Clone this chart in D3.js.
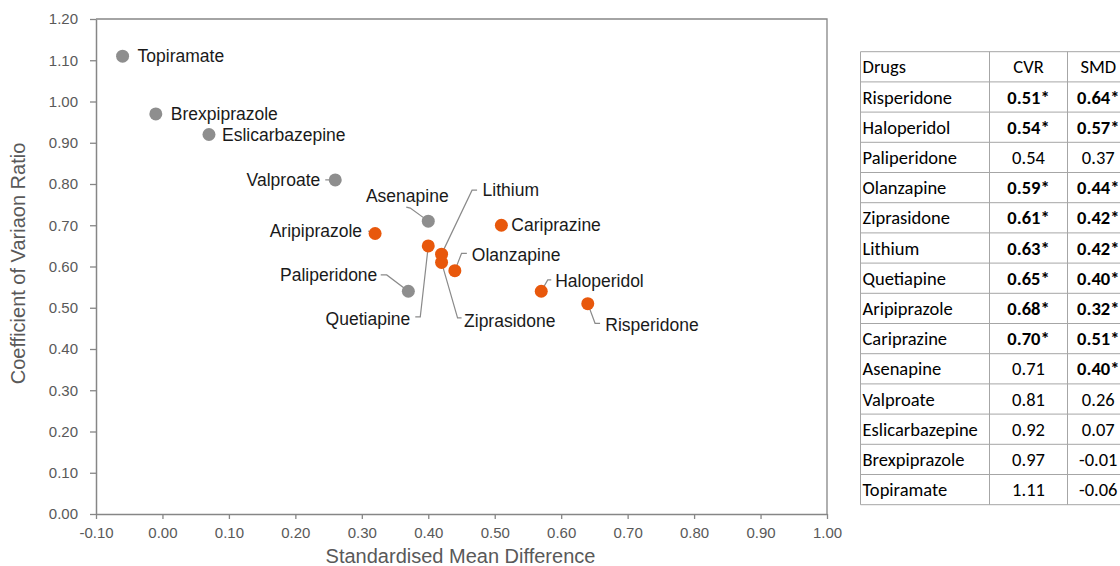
<!DOCTYPE html>
<html>
<head>
<meta charset="utf-8">
<script src="https://cdn.jsdelivr.net/npm/d3@7"></script>
<style>
  html, body { margin: 0; padding: 0; background: #fff; }
  svg { display: block; }
</style>
</head>
<body>
<svg id="chart" width="1120" height="566"></svg>
<script>
// Drugs ordered by coefficient of variation ratio (CVR)
const drugs = ["Risperidone", "Haloperidol", "Paliperidone", "Olanzapine", "Ziprasidone",
  "Lithium", "Quetiapine", "Aripiprazole", "Cariprazine", "Asenapine", "Valproate",
  "Eslicarbazepine", "Brexpiprazole", "Topiramate"];
const cvr = [0.51, 0.54, 0.54, 0.59, 0.61, 0.63, 0.65, 0.68, 0.70, 0.71, 0.81, 0.92, 0.97, 1.11];
const smd = [0.64, 0.57, 0.37, 0.44, 0.42, 0.42, 0.40, 0.32, 0.51, 0.40, 0.26, 0.07, -0.01, -0.06];
// significance flags (starred values)
const cvrSig = [true, true, false, true, true, true, true, true, true, false, false, false, false, false];
const smdSig = [true, true, false, true, true, true, true, true, true, true, false, false, false, false];

const xTicks = [-0.1, 0, 0.1, 0.2, 0.3, 0.4, 0.5, 0.6, 0.7, 0.8, 0.9, 1.0];
const yTicks = [0, 0.1, 0.2, 0.3, 0.4, 0.5, 0.6, 0.7, 0.8, 0.9, 1.0, 1.1, 1.2];
const tableHeader = ["Drugs", "CVR", "SMD"];

// Label placement around each point (pixel offsets from the point centre)
// leader: polyline points from the point towards the label; anchor: text-anchor
const labelLayout = {
  Topiramate:      { lx: 15,   ly: 0,     anchor: "start", leader: [] },
  Brexpiprazole:   { lx: 15,   ly: 0,     anchor: "start", leader: [] },
  Eslicarbazepine: { lx: 13,   ly: 0,     anchor: "start", leader: [] },
  Cariprazine:     { lx: 10,   ly: 0,     anchor: "start", leader: [] },
  Valproate:       { lx: -15,  ly: 0,     anchor: "end",   leader: [[-10, 0]] },
  Aripiprazole:    { lx: -13,  ly: -2.5,  anchor: "end",   leader: [[-7, -2.5]] },
  Asenapine:       { lx: -21,  ly: -25,   anchor: "middle",leader: [[-18, -13], [-22, -14]] },
  Lithium:         { lx: 41,   ly: -64,   anchor: "start", leader: [[30.5, -64], [35.5, -64]] },
  Olanzapine:      { lx: 17,   ly: -16,   anchor: "start", leader: [[6.7, -17.3], [12, -17.3]] },
  Ziprasidone:     { lx: 22.5, ly: 58,    anchor: "start", leader: [[16, 55.5], [20, 55.5]] },
  Quetiapine:      { lx: -18,  ly: 73,    anchor: "end",   leader: [[-8, 71], [-13, 71]] },
  Paliperidone:    { lx: -31,  ly: -16.3, anchor: "end",   leader: [[-21.6, -16.3], [-27.6, -16.3]] },
  Haloperidol:     { lx: 14,   ly: -10.6, anchor: "start", leader: [[6.5, -11.3], [10, -11.3]] },
  Risperidone:     { lx: 17.5, ly: 21.4,  anchor: "start", leader: [[7.3, 19.7], [12.3, 19.7]] }
};

const svg = d3.select("#chart");
const plot = { left: 96, right: 827, top: 19, bottom: 514 };

const x = d3.scaleLinear().domain([-0.1, 1.0]).range([plot.left, plot.right]);
const y = d3.scaleLinear().domain([0, 1.2]).range([plot.bottom, plot.top]);

const axisColor = "#868686";
const tickText = "#595959";
const fmt = v => v.toFixed(2);

// plot frame (top and right edges)
svg.append("path")
  .attr("d", `M${plot.left},${plot.top}H${plot.right}V${plot.bottom}`)
  .attr("fill", "none").attr("stroke", axisColor).attr("stroke-width", 1.3);

const gx = svg.append("g")
  .attr("transform", `translate(0,${plot.bottom})`)
  .call(d3.axisBottom(x).tickValues(xTicks).tickFormat(fmt).tickSize(5).tickSizeOuter(0));
const gy = svg.append("g")
  .attr("transform", `translate(${plot.left},0)`)
  .call(d3.axisLeft(y).tickValues(yTicks).tickFormat(fmt).tickSize(6).tickSizeOuter(0));

[gx, gy].forEach(g => {
  g.selectAll(".domain").attr("stroke", axisColor).attr("stroke-width", 1.5);
  g.selectAll(".tick line").attr("stroke", axisColor).attr("stroke-width", 1.3);
  g.selectAll(".tick text")
    .attr("fill", tickText)
    .style("font-family", "'Liberation Sans', Arial, sans-serif")
    .style("font-size", "15px");
});
gx.selectAll(".tick text").attr("dy", "1.05em");
gy.selectAll(".tick text").attr("x", -18);

// axis titles
svg.append("text")
  .attr("x", (plot.left + plot.right) / 2 - 1)
  .attr("y", 563)
  .attr("text-anchor", "middle")
  .attr("fill", tickText)
  .style("font-family", "'Liberation Sans', Arial, sans-serif")
  .style("font-size", "20px")
  .text("Standardised Mean Difference");

svg.append("text")
  .attr("transform", `translate(25,${(plot.top + plot.bottom) / 2 - 3}) rotate(-90)`)
  .attr("text-anchor", "middle")
  .attr("fill", tickText)
  .style("font-family", "'Liberation Sans', Arial, sans-serif")
  .style("font-size", "20px")
  .text("Coefficient of Variaon Ratio");

const points = drugs.map((d, i) => ({
  name: d, cvr: cvr[i], smd: smd[i], sig: cvrSig[i],
  px: x(smd[i]), py: y(cvr[i]), layout: labelLayout[d]
}));

// leader lines
svg.append("g").selectAll("polyline")
  .data(points.filter(p => p.layout.leader.length))
  .join("polyline")
  .attr("points", p => [[p.px, p.py], ...p.layout.leader.map(o => [p.px + o[0], p.py + o[1]])]
    .map(q => q.join(",")).join(" "))
  .attr("fill", "none")
  .attr("stroke", "#8a8a8a")
  .attr("stroke-width", 1.2);

// markers
svg.append("g").selectAll("circle")
  .data(points)
  .join("circle")
  .attr("cx", p => p.px)
  .attr("cy", p => p.py)
  .attr("r", 6.5)
  .attr("fill", p => p.sig ? "#E8580C" : "#8E8E8E");

// point labels
svg.append("g").selectAll("text")
  .data(points)
  .join("text")
  .attr("x", p => p.px + p.layout.lx)
  .attr("y", p => p.py + p.layout.ly)
  .attr("dy", "0.35em")
  .attr("text-anchor", p => p.layout.anchor)
  .attr("fill", "#1a1a1a")
  .style("font-family", "'Liberation Sans', Arial, sans-serif")
  .style("font-size", "17.5px")
  .text(p => p.name);

// summary table
const table = { left: 860.5, top: 51.7, rowH: 30.2, cols: [860.5, 989.5, 1067.5, 1129] };
const nRows = drugs.length + 1;
const tg = svg.append("g");
const tBottom = table.top + table.rowH * nRows;

d3.range(nRows + 1).forEach(r => {
  tg.append("line")
    .attr("x1", table.cols[0]).attr("x2", table.cols[3])
    .attr("y1", table.top + r * table.rowH).attr("y2", table.top + r * table.rowH)
    .attr("stroke", "#a6a6a6").attr("stroke-width", 1);
});
table.cols.forEach(c => {
  tg.append("line")
    .attr("x1", c).attr("x2", c)
    .attr("y1", table.top).attr("y2", tBottom)
    .attr("stroke", "#a6a6a6").attr("stroke-width", 1);
});

const cellFont = "Carlito, Lato, 'Open Sans', sans-serif";
const rows = [
  { cells: tableHeader, bold: [false, false, false] },
  ...drugs.map((d, i) => ({
    cells: [d, fmt(cvr[i]) + (cvrSig[i] ? "*" : ""), fmt(smd[i]) + (smdSig[i] ? "*" : "")],
    bold: [false, cvrSig[i], smdSig[i]]
  }))
];

rows.forEach((row, r) => {
  const cy = table.top + (r + 0.5) * table.rowH;
  row.cells.forEach((txt, c) => {
    const isName = c === 0;
    tg.append("text")
      .attr("x", isName ? table.cols[0] + 2 : (table.cols[c] + table.cols[c + 1]) / 2)
      .attr("y", cy)
      .attr("dy", "0.36em")
      .attr("text-anchor", isName ? "start" : "middle")
      .attr("fill", "#000")
      .style("font-family", cellFont)
      .style("font-size", "18.5px")
      .style("font-weight", row.bold[c] ? "bold" : "normal")
      .text(txt);
  });
});
</script>
</body>
</html>
